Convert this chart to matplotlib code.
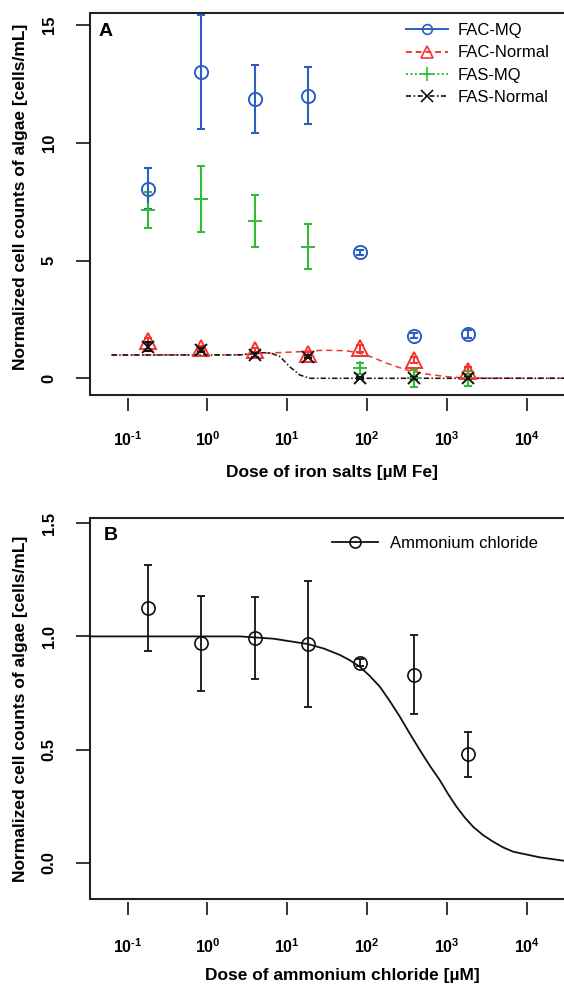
"""
Algae cell counts vs. dose of iron salts (A) and ammonium chloride (B)
"""

import matplotlib
matplotlib.use("Agg")
import matplotlib.pyplot as plt
from matplotlib.lines import Line2D

plt.rcParams['font.family'] = ['Liberation Sans', 'DejaVu Sans']
plt.rcParams['mathtext.fontset'] = 'custom'
plt.rcParams['mathtext.bf'] = 'Liberation Sans:bold'
plt.rcParams['mathtext.rm'] = 'Liberation Sans:bold'

# ---- data ----
dose = [0.18, 0.82, 3.9, 18, 82, 390, 1800]

fac_mq = [8.05, 13.0, 11.85, 12.0, 5.35, 1.81, 1.88]
fac_mq_err = [0.87, 2.42, 1.45, 1.2, 0.1, 0.12, 0.15]
fac_normal = [1.6, 1.27, 1.2, 1.03, 1.27, 0.78, 0.32]
fac_normal_err = [0.12, 0.08, 0.1, 0.1, 0.15, 0.12, 0.15]
fas_mq = [7.15, 7.63, 6.67, 5.59, 0.42, 0.0, 0.0]
fas_mq_err = [0.77, 1.4, 1.1, 0.95, 0.24, 0.35, 0.33]
fas_normal = [1.34, 1.2, 0.99, 0.92, 0.0, 0.0, 0.0]
fas_normal_err = [0.2, 0.1, 0.08, 0.08, 0.05, 0.05, 0.05]

# fitted curves, points
fac_normal_fit_x = [0.063, 1, 2.5, 5.2, 8.1, 14.3, 28, 55, 71, 98, 175, 310, 550, 980, 1750, 40000]
fac_normal_fit_y = [0.99, 0.99, 1.0, 1.07, 1.09, 1.13, 1.19, 1.17, 1.1, 0.99, 0.64, 0.35, 0.18, 0.07, 0.01, 0.0]
fas_normal_fit_x = [0.063, 1.0, 2.5, 4.0, 5.2, 6.3, 8.1, 10.7, 14.3, 19.1, 100, 1000, 40000]
fas_normal_fit_y = [0.99, 0.99, 0.99, 1.05, 1.09, 1.06, 0.92, 0.49, 0.14, 0.0, 0.0, 0.0, 0.0]

nh4cl = [1.127, 0.970, 0.993, 0.966, 0.884, 0.831, 0.479]
nh4cl_err = [0.19, 0.21, 0.18, 0.28, 0.015, 0.175, 0.10]
nh4cl_fit_x = [0.034, 1, 2.54, 6.64, 18.2, 28.8, 45.4, 60.3, 80.7, 107, 143.6, 191, 255.9, 339,
               455, 603, 809, 1023, 1312, 1660, 2113, 2818, 3767, 5012, 6699, 14454, 28840, 40000]
nh4cl_fit_y = [1.0, 1.0, 1.0, 0.99, 0.966, 0.946, 0.918, 0.895, 0.866, 0.826, 0.778, 0.715, 0.645,
               0.572, 0.498, 0.43, 0.365, 0.305, 0.247, 0.2, 0.159, 0.122, 0.093, 0.068, 0.049,
               0.024, 0.009, 0.006]

xticks = [0.1, 1, 10, 100, 1000, 10000]
xticklabels = [r'$\mathbf{10^{\text{-}1}}$', r'$\mathbf{10^{0}}$', r'$\mathbf{10^{1}}$',
               r'$\mathbf{10^{2}}$', r'$\mathbf{10^{3}}$', r'$\mathbf{10^{4}}$']

BLUE = '#2E5EBF'
RED = '#F43434'
GREEN = '#33BB33'
BLACK = '#111111'

W, H = 564, 984
fig = plt.figure(figsize=(W / 100, H / 100), dpi=100)


def make_axes(top_px, bottom_px):
    ax = fig.add_axes([90 / W, 1 - bottom_px / H, 482 / W, (bottom_px - top_px) / H])
    ax.set_xscale('log')
    ax.set_xlim(0.0339, 36500)
    for s in ax.spines.values():
        s.set_visible(False)
    ax.spines['bottom'].set_position(('outward', 2.5))
    ax.patch.set_edgecolor('#222222')
    ax.patch.set_linewidth(1.5)
    ax.minorticks_off()
    ax.set_xticks(xticks, xticklabels)
    ax.tick_params(axis='x', length=9.4, width=1.1, direction='out', labelsize=11.5)
    ax.tick_params(axis='y', length=10, width=1.1, direction='out', labelsize=12)
    return ax


def ylabels(ax, ticks, labels):
    ax.set_yticks(ticks)
    ax.set_yticklabels(labels, rotation=90, ha='center', va='center', fontweight='bold')


# ---------------- Panel A ----------------
ax1 = make_axes(13, 395)
ax1.set_ylim(-0.71, 15.51)
ylabels(ax1, [0, 5, 10, 15], ['0', '5', '10', '15'])
ax1.tick_params(axis='y', pad=19.5)
ax1.tick_params(axis='x', pad=13.5)

ax1.plot(fac_normal_fit_x, fac_normal_fit_y, color=RED, lw=1.1, dashes=(4, 2.7))
ax1.plot(fas_normal_fit_x, fas_normal_fit_y, color=BLACK, lw=1.1, dashes=(3.5, 1.5, 1, 1.5))

ekw = dict(fmt='none', capsize=3, elinewidth=1.5, capthick=1.5)
ax1.errorbar(dose, fas_mq, yerr=fas_mq_err, ecolor=GREEN, **ekw)
ax1.errorbar(dose, fac_mq, yerr=fac_mq_err, ecolor=BLUE, **ekw)
ax1.errorbar(dose, fac_normal, yerr=fac_normal_err, ecolor=RED, **ekw)
ax1.errorbar(dose, fas_normal, yerr=fas_normal_err, ecolor=BLACK, **ekw)

ax1.plot(dose, fas_mq, ls='none', marker='+', ms=9.5, mew=1.4, color=GREEN)
ax1.plot(dose, fac_mq, ls='none', marker='o', ms=9.5, mew=1.4, mfc='none', color=BLUE)
ax1.plot(dose, fac_normal, ls='none', marker='^', ms=11, mew=1.4, mfc='none', color=RED)
ax1.plot(dose, fas_normal, ls='none', marker='x', ms=9, mew=1.4, color=BLACK)

handles = [
    Line2D([], [], color=BLUE, lw=1.4, marker='o', ms=7, mfc='none', mew=1.2),
    Line2D([], [], color=RED, lw=1.4, dashes=(3, 2), marker='^', ms=8, mfc='none', mew=1.2),
    Line2D([], [], color=GREEN, lw=1.4, dashes=(1, 1.3), marker='+', ms=10, mew=1.2),
    Line2D([], [], color=BLACK, lw=1.2, dashes=(3, 1.5, 1, 1.5), marker='x', ms=8, mew=1.2),
]
ax1.legend(handles, ['FAC-MQ', 'FAC-Normal', 'FAS-MQ', 'FAS-Normal'],
           loc='upper left', bbox_to_anchor=(406 / W, 1 - 23 / H),
           bbox_transform=fig.transFigure, frameon=False, borderpad=0, borderaxespad=0,
           handlelength=2.5, handletextpad=0.6, labelspacing=0.44, fontsize=12,
           numpoints=1)

ax1.set_xlabel('Dose of iron salts [µM Fe]', fontsize=12.5, fontweight='bold', va='center')
ax1.xaxis.set_label_coords(0.502, -0.2016)
ax1.set_ylabel('Normalized cell counts of algae [cells/mL]', fontsize=12.5,
               fontweight='bold', va='center')
ax1.yaxis.set_label_coords(-0.1452, 0.52)
fig.text(106 / W, 1 - 32 / H, 'A', fontsize=14, fontweight='bold', ha='center', va='center')

# ---------------- Panel B ----------------
ax2 = make_axes(518, 899)
ax2.set_ylim(-0.160, 1.523)
ylabels(ax2, [0, 0.5, 1.0, 1.5], ['0.0', '0.5', '1.0', '1.5'])
ax2.tick_params(axis='y', pad=19.5)
ax2.tick_params(axis='x', pad=15.5)

ax2.plot(nh4cl_fit_x, nh4cl_fit_y, color=BLACK, lw=1.3)
ax2.errorbar(dose, nh4cl, yerr=nh4cl_err, ecolor=BLACK, fmt='none', capsize=3,
             elinewidth=1.3, capthick=1.3)
ax2.plot(dose, nh4cl, ls='none', marker='o', ms=9.5, mew=1.2, mfc='none', color=BLACK)

hb = [Line2D([], [], color=BLACK, lw=1.3, marker='o', ms=8, mfc='none', mew=1.2)]
ax2.legend(hb, ['Ammonium chloride'], loc='upper left',
           bbox_to_anchor=(332 / W, 1 - 535.5 / H), bbox_transform=fig.transFigure,
           frameon=False, borderpad=0, borderaxespad=0, handlelength=2.75,
           handletextpad=0.72, fontsize=12, numpoints=1)

ax2.set_xlabel('Dose of ammonium chloride [µM]', fontsize=12.5, fontweight='bold', va='center')
ax2.xaxis.set_label_coords(0.523, -0.1995)
ax2.set_ylabel('Normalized cell counts of algae [cells/mL]', fontsize=12.5,
               fontweight='bold', va='center')
ax2.yaxis.set_label_coords(-0.1452, 0.5)
fig.text(111 / W, 1 - 536 / H, 'B', fontsize=14, fontweight='bold', ha='center', va='center')

fig.savefig('out.png', dpi=100)
